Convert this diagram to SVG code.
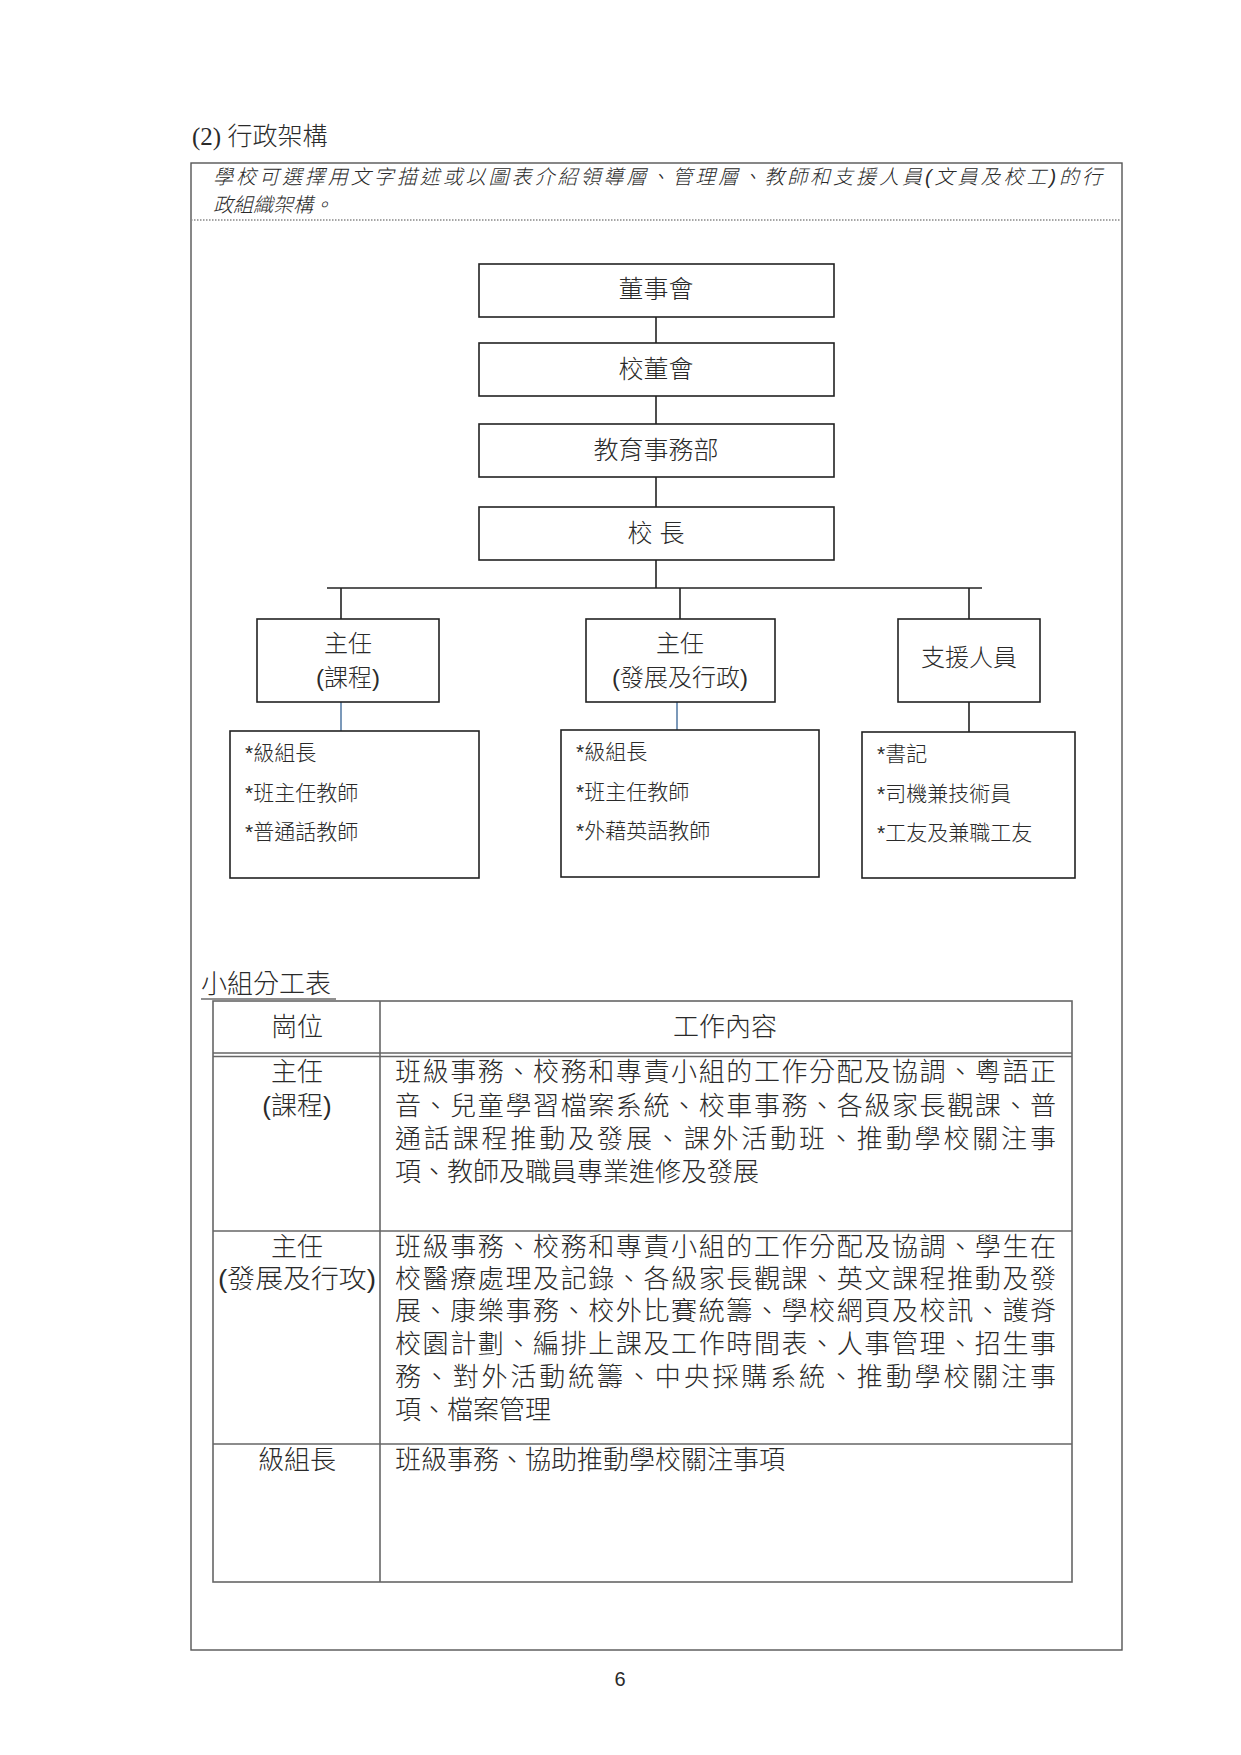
<svg xmlns="http://www.w3.org/2000/svg" width="1241" height="1755" viewBox="0 0 1241 1755">
<style>
text{font-family:"Liberation Sans","Noto Sans CJK TC",sans-serif;fill:#2a2a2a;dominant-baseline:central;font-weight:300}
.node{fill:#fff;stroke:#222;stroke-width:1.6}
.c{text-anchor:middle}
.t1{font-size:25px}
.t2{font-size:24px}
.t3{font-size:21px}
.tb{font-size:26px}
.conn{stroke:#222;stroke-width:1.6;fill:none}
.blue{stroke:#5a7fa8;stroke-width:1.6;fill:none}
.tl{stroke:#666;stroke-width:1.6;fill:none}
</style>
<rect width="1241" height="1755" fill="#fff"/>
<text x="192" y="136" style="font-family:'Liberation Serif','Noto Sans CJK TC',serif;font-size:25px">(2) 行政架構</text>
<g id="frame">
<rect x="191" y="163" width="931" height="1487" fill="none" stroke="#555" stroke-width="1.4"/>
<line x1="191" y1="220" x2="1122" y2="220" stroke="#888" stroke-width="1.4" stroke-dasharray="1.5 1.5"/>
<text x="213" y="177" style="font-size:20px;font-style:italic" textLength="889" lengthAdjust="spacing">學校可選擇用文字描述或以圖表介紹領導層、管理層、教師和支援人員(文員及校工)的行</text>
<text x="213" y="205" style="font-size:20px;font-style:italic">政組織架構。</text>
</g>
<g id="connectors">
<line class="conn" x1="656" y1="317" x2="656" y2="343"/>
<line class="conn" x1="656" y1="396" x2="656" y2="424"/>
<line class="conn" x1="656" y1="477" x2="656" y2="507"/>
<line class="conn" x1="656" y1="560" x2="656" y2="588"/>
<line class="conn" x1="327" y1="588" x2="982" y2="588"/>
<line class="conn" x1="341" y1="588" x2="341" y2="619"/>
<line class="conn" x1="680" y1="588" x2="680" y2="619"/>
<line class="conn" x1="969" y1="588" x2="969" y2="619"/>
<line class="blue" x1="341" y1="702" x2="341" y2="731"/>
<line class="blue" x1="677" y1="702" x2="677" y2="730"/>
<line class="conn" x1="969" y1="702" x2="969" y2="732"/>
</g>
<g id="n-board">
<rect class="node" x="479" y="264" width="355" height="53"/>
<text class="c t1" x="656" y="289">董事會</text>
</g>
<g id="n-school-board">
<rect class="node" x="479" y="343" width="355" height="53"/>
<text class="c t1" x="656" y="369">校董會</text>
</g>
<g id="n-edu">
<rect class="node" x="479" y="424" width="355" height="53"/>
<text class="c t1" x="656" y="450">教育事務部</text>
</g>
<g id="n-principal">
<rect class="node" x="479" y="507" width="355" height="53"/>
<text class="c t1" x="656" y="533">校 長</text>
</g>
<g id="n-curr">
<rect class="node" x="257" y="619" width="182" height="83"/>
<text class="c t2" x="348" y="643">主任</text>
<text class="c t2" x="348" y="677">(課程)</text>
</g>
<g id="n-dev">
<rect class="node" x="586" y="619" width="189" height="83"/>
<text class="c t2" x="680" y="643">主任</text>
<text class="c t2" x="680" y="677">(發展及行政)</text>
</g>
<g id="n-support">
<rect class="node" x="898" y="619" width="142" height="83"/>
<text class="c t2" x="969" y="657">支援人員</text>
</g>
<g id="n-curr-staff">
<rect class="node" x="230" y="731" width="249" height="147"/>
<text class="t3" x="245" y="752">*級組長</text>
<text class="t3" x="245" y="792">*班主任教師</text>
<text class="t3" x="245" y="831">*普通話教師</text>
</g>
<g id="n-dev-staff">
<rect class="node" x="561" y="730" width="258" height="147"/>
<text class="t3" x="576" y="751">*級組長</text>
<text class="t3" x="576" y="791">*班主任教師</text>
<text class="t3" x="576" y="830">*外藉英語教師</text>
</g>
<g id="n-support-staff">
<rect class="node" x="862" y="732" width="213" height="146"/>
<text class="t3" x="877" y="753">*書記</text>
<text class="t3" x="877" y="793">*司機兼技術員</text>
<text class="t3" x="877" y="832">*工友及兼職工友</text>
</g>
<g id="table">
<text x="201" y="984" style="font-size:26px">小組分工表</text>
<line x1="201" y1="999" x2="336" y2="999" stroke="#222" stroke-width="1.2"/>
<rect class="tl" x="213" y="1001" width="859" height="581"/>
<line class="tl" x1="380" y1="1001" x2="380" y2="1582"/>
<line class="tl" x1="213" y1="1053" x2="1072" y2="1053"/>
<line class="tl" x1="213" y1="1056.5" x2="1072" y2="1056.5"/>
<line class="tl" x1="213" y1="1231" x2="1072" y2="1231"/>
<line class="tl" x1="213" y1="1444" x2="1072" y2="1444"/>
<text class="c tb" x="297" y="1027">崗位</text>
<text class="c tb" x="725" y="1027">工作內容</text>
<text class="c tb" x="297" y="1072">主任</text>
<text class="c tb" x="297" y="1106">(課程)</text>
<text class="tb" x="395" y="1072" textLength="661" lengthAdjust="spacing">班級事務、校務和專責小組的工作分配及協調、粵語正</text>
<text class="tb" x="395" y="1106" textLength="661" lengthAdjust="spacing">音、兒童學習檔案系統、校車事務、各級家長觀課、普</text>
<text class="tb" x="395" y="1139" textLength="661" lengthAdjust="spacing">通話課程推動及發展、課外活動班、推動學校關注事</text>
<text class="tb" x="395" y="1172">項、教師及職員專業進修及發展</text>
<text class="c tb" x="297" y="1247">主任</text>
<text class="c tb" x="297" y="1279" textLength="158" lengthAdjust="spacingAndGlyphs">(發展及行攻)</text>
<text class="tb" x="395" y="1247" textLength="661" lengthAdjust="spacing">班級事務、校務和專責小組的工作分配及協調、學生在</text>
<text class="tb" x="395" y="1279" textLength="661" lengthAdjust="spacing">校醫療處理及記錄、各級家長觀課、英文課程推動及發</text>
<text class="tb" x="395" y="1311" textLength="661" lengthAdjust="spacing">展、康樂事務、校外比賽統籌、學校網頁及校訊、護脊</text>
<text class="tb" x="395" y="1344" textLength="661" lengthAdjust="spacing">校園計劃、編排上課及工作時間表、人事管理、招生事</text>
<text class="tb" x="395" y="1377" textLength="661" lengthAdjust="spacing">務、對外活動統籌、中央採購系統、推動學校關注事</text>
<text class="tb" x="395" y="1410">項、檔案管理</text>
<text class="c tb" x="297" y="1460">級組長</text>
<text class="tb" x="395" y="1460">班級事務、協助推動學校關注事項</text>
</g>
<text class="c" x="620" y="1679" style="font-size:20px;font-weight:400">6</text>
</svg>
